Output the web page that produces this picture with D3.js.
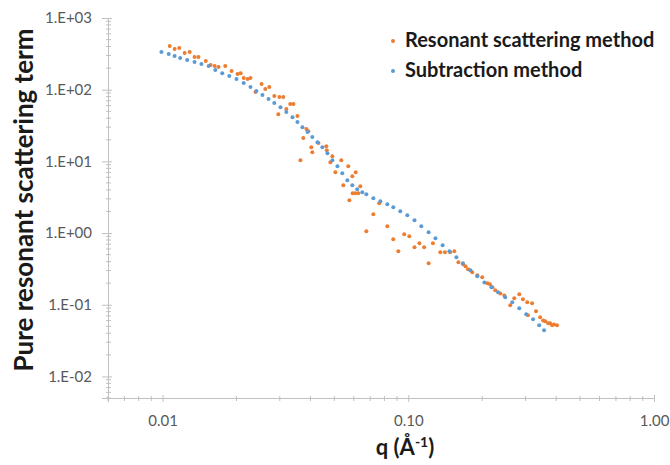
<!DOCTYPE html>
<html>
<head>
<meta charset="utf-8">
<script src="https://cdn.jsdelivr.net/npm/d3@7"></script>
<style>
  body { margin: 0; background: #fff; }
  text { font-family: Lato, "Noto Sans", sans-serif; }
</style>
</head>
<body>
<div id="chart"></div>
<script>
// series: q (1/A) and the scattering term
var resQ = [0.0107,0.0112,0.0117,0.0123,0.0129,0.0135,0.0140,0.0150,0.0157,0.0163,
    0.0169,0.0180,0.0191,0.0202,0.0208,0.0214,0.0222,0.0228,0.0239,0.0253,
    0.0262,0.0272,0.0285,0.0296,0.0299,0.0310,0.0319,0.0331,0.0341,0.0354,
    0.0364,0.0374,0.0385,0.0392,0.0403,0.0407,0.0431,0.0464,0.0466,0.0482,
    0.0491,0.0505,0.0534,0.0544,0.0570,0.0576,0.0592,0.0594,0.0609,0.0611,
    0.0626,0.0638,0.0675,0.0721,0.0762,0.0822,0.0869,0.0911,0.0963,0.101,
    0.106,0.111,0.116,0.121,0.126,0.135,0.141,0.148,0.154,0.160,
    0.167,0.171,0.175,0.182,0.191,0.200,0.210,0.215,0.220,0.226,
    0.237,0.246,0.260,0.270,0.283,0.293,0.305,0.307,0.319,0.331,
    0.344,0.354,0.361,0.371,0.378,0.385,0.392,0.403];
var resVal = [406,369,381,325,335,285,285,251,221,214,
    207,214,182,165,170,145,141,145,92.6,120,
    102,109,81.4,45.6,78.8,78.8,53.6,62.9,62.9,42.8,
    10.4,21.1,28.2,26.4,15.8,13.4,18.0,16.3,14.3,9.74,
    11.8,7.07,10.4,4.65,8.57,2.87,6.21,3.60,3.60,7.07,
    3.60,4.50,1.06,1.83,2.61,1.24,0.819,0.557,0.962,0.902,
    0.633,0.720,0.633,0.379,0.720,0.539,0.539,0.539,0.557,0.391,
    0.367,0.344,0.312,0.284,0.257,0.241,0.199,0.193,0.175,0.159,
    0.144,0.135,0.0981,0.123,0.140,0.119,0.108,0.0711,0.105,0.0809,
    0.0667,0.0605,0.0587,0.0550,0.0550,0.0516,0.0532,0.0516];

var subQ = [0.0099,0.0106,0.0112,0.0118,0.0126,0.0135,0.0144,0.0154,0.0164,0.0175,
    0.0187,0.0200,0.0214,0.0228,0.0241,0.0255,0.0270,0.0285,0.0302,0.0319,
    0.0338,0.0354,0.0371,0.0389,0.0407,0.0427,0.0447,0.0469,0.0491,0.0515,
    0.0539,0.0565,0.0592,0.0620,0.0650,0.0675,0.0721,0.0770,0.0822,0.0869,
    0.0928,0.0991,0.106,0.113,0.121,0.129,0.138,0.147,0.157,0.167,
    0.179,0.191,0.204,0.218,0.232,0.248,0.265,0.283,0.302,0.322,
    0.341,0.357];
var subVal = [335,314,295,276,259,243,228,214,188,170,
    155,141,124,109,95.6,84.1,73.9,65.0,57.1,48.7,
    41.4,35.3,30.0,25.6,21.8,18.5,15.8,13.0,10.4,8.57,
    6.84,5.46,4.65,4.09,3.71,3.48,3.06,2.78,2.52,2.29,
    2.02,1.77,1.51,1.24,1.03,0.846,0.676,0.557,0.459,0.379,
    0.302,0.249,0.205,0.175,0.149,0.127,0.108,0.0891,0.0734,0.0625,
    0.0516,0.0439];

var seriesNames = ["Resonant scattering method", "Subtraction method"];
var seriesColors = ["#ed7d31", "#5b9bd5"];

var xTicks = [0.01, 0.1, 1];
var yTicks = [0.01, 0.1, 1, 10, 100, 1000];
var xDomain = [0.006, 1];
var yDomain = [0.005, 1000];

var W = 670, H = 465;
var margin = {top: 18, right: 16, bottom: 67, left: 108};

var svg = d3.select("#chart").append("svg")
    .attr("width", W)
    .attr("height", H);

var x = d3.scaleLog().domain(xDomain).range([margin.left, W - margin.right]);
var y = d3.scaleLog().domain(yDomain).range([H - margin.bottom, margin.top]);

// minor tick positions: 2..9 in every decade that falls inside the domain
function minors(dom) {
    var out = [];
    for (var e = -4; e <= 4; e++) {
        for (var k = 2; k <= 9; k++) {
            var v = k * Math.pow(10, e);
            if (v >= dom[0] * 0.999 && v <= dom[1] * 1.001) out.push(v);
        }
    }
    return out;
}

var axisColor = "#c0c0c0";
var labelColor = "#595959";

// y axis
var gy = svg.append("g")
    .attr("transform", "translate(" + margin.left + ",0)")
    .call(d3.axisLeft(y).tickValues(yTicks).tickSize(6).tickPadding(10)
        .tickFormat(function (d) {
            var e = Math.round(Math.log10(d));
            return "1.E" + (e < 0 ? "-" : "+") + (Math.abs(e) < 10 ? "0" : "") + Math.abs(e);
        }));
gy.select(".domain").attr("stroke", axisColor);
gy.selectAll(".tick line").attr("stroke", axisColor).attr("x2", 4).attr("x1", -6);
gy.selectAll(".tick text").attr("fill", labelColor).style("font-size", "15px");

gy.append("g").selectAll("line")
    .data(minors(yDomain))
    .enter().append("line")
    .attr("x1", -2).attr("x2", 3)
    .attr("y1", function (d) { return y(d); })
    .attr("y2", function (d) { return y(d); })
    .attr("stroke", axisColor);

// x axis
var gx = svg.append("g")
    .attr("transform", "translate(0," + (H - margin.bottom) + ")")
    .call(d3.axisBottom(x).tickValues(xTicks).tickSize(4).tickPadding(13)
        .tickFormat(d3.format(".2f")));
gx.select(".domain").attr("stroke", axisColor);
gx.selectAll(".tick line").attr("stroke", axisColor).attr("y1", -3);
gx.selectAll(".tick text").attr("fill", labelColor).style("font-size", "15px");

gx.append("g").selectAll("line")
    .data(minors(xDomain))
    .enter().append("line")
    .attr("y1", -2).attr("y2", 3)
    .attr("x1", function (d) { return x(d); })
    .attr("x2", function (d) { return x(d); })
    .attr("stroke", axisColor);

// the two series, resonant first so the subtraction dots sit on top
var series = [
    {q: resQ, v: resVal, color: seriesColors[0]},
    {q: subQ, v: subVal, color: seriesColors[1]}
];

series.forEach(function (s) {
    svg.append("g").selectAll("circle")
        .data(d3.range(s.q.length))
        .enter().append("circle")
        .attr("cx", function (i) { return x(s.q[i]); })
        .attr("cy", function (i) { return y(s.v[i]); })
        .attr("r", 2)
        .attr("fill", s.color);
});

// legend
var legend = svg.append("g").attr("transform", "translate(393,41)");
seriesNames.forEach(function (name, i) {
    var row = legend.append("g").attr("transform", "translate(0," + (i * 30) + ")");
    row.append("circle").attr("r", 2).attr("fill", seriesColors[i]);
    row.append("text")
        .attr("x", 12).attr("y", 6)
        .style("font-size", "20px")
        .style("font-weight", "bold")
        .attr("fill", "#1a1a1a")
        .text(name);
});

// axis titles
svg.append("text")
    .attr("transform", "translate(33,200) rotate(-90)")
    .attr("text-anchor", "middle")
    .style("font-size", "26px")
    .style("font-weight", "bold")
    .attr("fill", "#1a1a1a")
    .text("Pure resonant scattering term");

var xt = svg.append("text")
    .attr("x", 405).attr("y", 455)
    .attr("text-anchor", "middle")
    .style("font-size", "22px")
    .style("font-weight", "bold")
    .attr("fill", "#1a1a1a");
xt.append("tspan").text("q (Å");
xt.append("tspan").attr("dy", -8).style("font-size", "14px").text("-1");
xt.append("tspan").attr("dy", 8).text(")");
</script>
</body>
</html>
